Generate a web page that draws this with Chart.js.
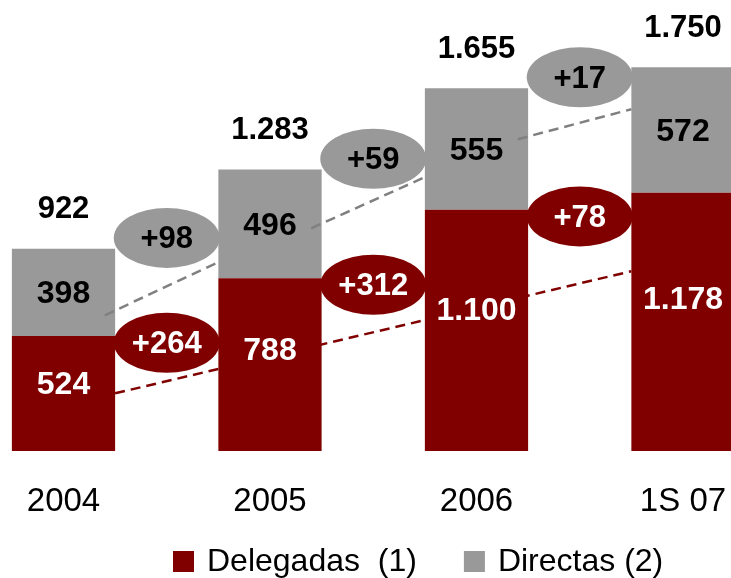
<!DOCTYPE html>
<html lang="es">
<head>
<meta charset="utf-8">
<title>Delegadas y Directas</title>
<script src="https://cdn.jsdelivr.net/npm/chart.js@4.4.0/dist/chart.umd.min.js"></script>
<style>
  html, body { margin: 0; padding: 0; background: #fff; }
  #grafico { display: block; }
</style>
</head>
<body>
<canvas id="grafico" width="731" height="578"></canvas>
<script>
const categorias = ['2004', '2005', '2006', '1S 07'];
const delegadas = [524, 788, 1100, 1178];
const directas = [398, 496, 555, 572];
const totales = [922, 1283, 1655, 1750];
// niveles de las líneas discontinuas
const tendenciaDelegadas = [263, 820];
const tramosDirectas = [[619, 861], [1016, 1249], [1422, 1559]];

const ROJO = '#800000';
const GRIS = '#999999';
const GRIS_LINEA = '#808080';
const FUENTE = "'Liberation Sans', Arial, sans-serif";
const Y_MAX = 2057;
const X_MIN = -0.3075, X_MAX = 3.2325;
const MEDIA_BARRA = 0.25;

function miles(v) {
  return String(v).replace(/\B(?=(\d{3})+(?!\d))/g, '.');
}

const puntos = arr => arr.map((v, i) => ({ x: i, y: v }));

const lineaDiscontinua = (data, color, order) => ({
  type: 'line',
  data: data,
  yAxisID: 'yl',
  borderColor: color,
  borderWidth: 2.5,
  borderDash: [10, 6],
  pointRadius: 0,
  fill: false,
  order: order
});

function elipse(ctx, cx, cy, fondo, colorTexto, texto) {
  ctx.beginPath();
  ctx.ellipse(cx, cy, 53, 30, 0, 0, Math.PI * 2);
  ctx.fillStyle = fondo;
  ctx.fill();
  ctx.fillStyle = colorTexto;
  ctx.font = `bold 31px ${FUENTE}`;
  ctx.fillText(texto, cx, cy + 2);
}

// valores, totales y variaciones
const etiquetas = {
  id: 'etiquetas',
  afterDatasetsDraw(chart) {
    const { ctx, scales: { x, y } } = chart;
    const barrasDel = chart.getDatasetMeta(0).data;
    const barrasDir = chart.getDatasetMeta(1).data;
    ctx.save();
    ctx.textAlign = 'center';
    ctx.textBaseline = 'middle';

    for (let i = 0; i < categorias.length - 1; i++) {
      const cx = x.getPixelForValue(i + 0.5);
      elipse(ctx, cx, y.getPixelForValue(totales[i] + 50), GRIS, '#000', '+' + (directas[i + 1] - directas[i]));
      elipse(ctx, cx, y.getPixelForValue(delegadas[i] - 30), ROJO, '#fff', '+' + (delegadas[i + 1] - delegadas[i]));
    }

    ctx.font = `bold 32px ${FUENTE}`;
    barrasDel.forEach((b, i) => {
      ctx.fillStyle = '#fff';
      ctx.fillText(miles(delegadas[i]), b.x, b.y + 0.41 * (b.base - b.y) + 2);
    });
    barrasDir.forEach((b, i) => {
      ctx.fillStyle = '#000';
      ctx.fillText(miles(directas[i]), b.x, (b.y + b.base) / 2 + 2);
    });
    ctx.font = `bold 31px ${FUENTE}`;
    barrasDir.forEach((b, i) => {
      ctx.fillText(miles(totales[i]), b.x, b.y - 39);
    });
    ctx.restore();
  }
};

const leyenda = {
  id: 'leyenda',
  afterDraw(chart) {
    const ctx = chart.ctx;
    ctx.save();
    ctx.font = `32px ${FUENTE}`;
    ctx.textBaseline = 'middle';
    let xPos = 173;
    chart.data.datasets.slice(0, 2).forEach(ds => {
      ctx.fillStyle = ds.backgroundColor;
      ctx.fillRect(xPos, 551, 21, 21);
      ctx.fillStyle = '#000';
      ctx.fillText(ds.label, xPos + 34, 562);
      xPos += 34 + ctx.measureText(ds.label).width + 47;
    });
    ctx.restore();
  }
};

const ctx = document.getElementById('grafico').getContext('2d');
const grafico = new Chart(ctx, {
  type: 'bar',
  data: {
    datasets: [
      { label: 'Delegadas  (1)', data: puntos(delegadas), backgroundColor: ROJO, order: 1 },
      { label: 'Directas (2)', data: puntos(directas), backgroundColor: GRIS, order: 2 },
      lineaDiscontinua([
        { x: MEDIA_BARRA, y: tendenciaDelegadas[0] },
        { x: categorias.length - 1 - MEDIA_BARRA, y: tendenciaDelegadas[1] }
      ], ROJO, 10),
      ...tramosDirectas.map((t, i) => lineaDiscontinua([
        { x: i + 0.2, y: t[0] },
        { x: i + 1 - MEDIA_BARRA, y: t[1] }
      ], GRIS_LINEA, 0))
    ]
  },
  options: {
    responsive: false,
    animation: false,
    devicePixelRatio: 1,
    layout: { padding: { top: 0, left: 0, right: 0, bottom: 60 } },
    datasets: {
      bar: { categoryPercentage: 0.5, barPercentage: 1, borderWidth: 0, clip: false }
    },
    plugins: {
      legend: { display: false },
      tooltip: { enabled: false }
    },
    scales: {
      x: {
        type: 'linear',
        stacked: true,
        offset: false,
        min: X_MIN,
        max: X_MAX,
        afterBuildTicks: scale => {
          scale.ticks = categorias.map((c, i) => ({ value: i }));
        },
        afterFit: scale => {
          scale.paddingLeft = 0;
          scale.paddingRight = 0;
          scale.height = 67;
        },
        ticks: {
          callback: v => categorias[v] ?? '',
          color: '#000',
          font: { family: FUENTE, size: 33 },
          padding: 31,
          maxRotation: 0,
          autoSkip: false
        },
        grid: { display: false, drawTicks: false, offset: false },
        border: { display: false }
      },
      y: { display: false, stacked: true, min: 0, max: Y_MAX },
      yl: { display: false, min: 0, max: Y_MAX }
    }
  },
  plugins: [etiquetas, leyenda]
});
</script>
</body>
</html>
